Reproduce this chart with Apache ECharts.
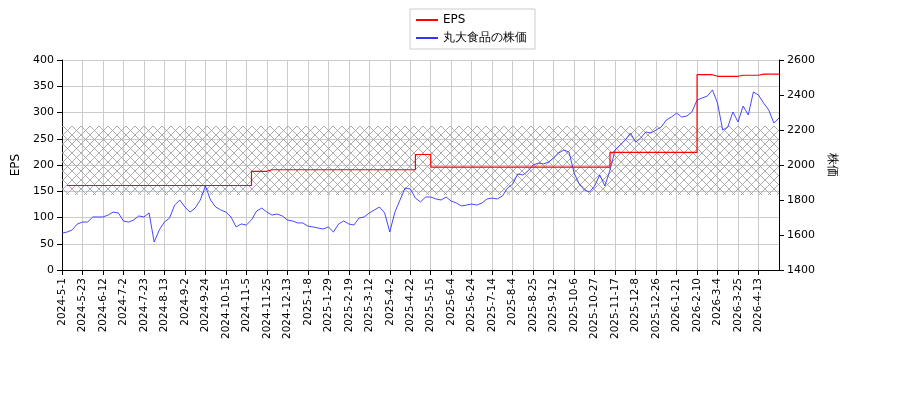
<!DOCTYPE html><html><head><meta charset="utf-8">
<script src="https://cdn.jsdelivr.net/npm/echarts@6/dist/echarts.min.js"></script>
<style>html,body{margin:0;background:#fff}#c{width:900px;height:400px}</style></head><body><div id="c"></div>
<script>
const tickLabels=["2024-5-1","2024-5-23","2024-6-12","2024-7-2","2024-7-23","2024-8-13","2024-9-2","2024-9-24","2024-10-15","2024-11-5","2024-11-25","2024-12-13","2025-1-8","2025-1-29","2025-2-19","2025-3-12","2025-4-2","2025-4-22","2025-5-15","2025-6-4","2025-6-24","2025-7-14","2025-8-4","2025-8-25","2025-9-12","2025-10-6","2025-10-27","2025-11-17","2025-12-8","2025-12-26","2026-1-21","2026-2-10","2026-3-4","2026-3-25","2026-4-13"];
const price=[1611,1617,1629,1663,1674,1674,1703,1703,1703,1714,1731,1726,1680,1674,1686,1709,1703,1726,1560,1629,1674,1697,1771,1800,1760,1731,1754,1800,1880,1800,1760,1743,1731,1703,1646,1663,1657,1686,1737,1754,1731,1714,1720,1709,1686,1680,1669,1669,1651,1646,1640,1634,1646,1617,1663,1680,1663,1657,1697,1703,1726,1743,1760,1726,1617,1731,1800,1869,1863,1811,1789,1817,1817,1806,1800,1817,1794,1783,1766,1771,1777,1771,1783,1806,1811,1806,1823,1869,1891,1949,1943,1966,2000,2011,2006,2017,2040,2069,2086,2074,1954,1891,1857,1846,1880,1943,1880,1971,2086,2114,2143,2183,2131,2154,2189,2183,2200,2217,2257,2274,2297,2274,2280,2303,2371,2383,2394,2429,2354,2200,2217,2303,2246,2337,2286,2417,2400,2354,2314,2240,2269];
// EPS step segments: [start index, value]
const epsSteps=[[1,161],[37,188],[40,191],[69,220],[72,196],[107,224],[124,372],[127,369],[132,371],[136,373]];
const bandPrice=[1829,2223];
const n=price.length;
const cats=[];for(let i=0;i<n;i++)cats.push(i%4===0&&tickLabels[i/4]?tickLabels[i/4]:'#'+i);
const eps=[];let si=0;for(let i=0;i<n;i++){while(si+1<epsSteps.length&&epsSteps[si+1][0]<=i)si++;eps.push(i>=epsSteps[0][0]?epsSteps[si][1]:null);}
const cv=document.createElement('canvas');cv.width=9;cv.height=9;const g=cv.getContext('2d');
g.strokeStyle='#999';g.lineWidth=0.8;g.beginPath();g.moveTo(0,0);g.lineTo(9,9);g.moveTo(9,0);g.lineTo(0,9);g.stroke();
const ch=echarts.init(document.getElementById('c'));
const f='DejaVu Sans';
const isTick=i=>i%4===0&&i/4<tickLabels.length;
ch.setOption({animation:false,textStyle:{fontFamily:f},
legend:{orient:'vertical',left:410,top:9,padding:[5,8,5,6],itemGap:6,borderColor:'#ccc',borderWidth:1,icon:'rect',itemWidth:22,itemHeight:2,textStyle:{fontSize:12,color:'#000',fontFamily:f},data:['EPS','丸大食品の株価']},
grid:{left:62,right:121,top:60,bottom:130},
xAxis:{type:'category',data:cats,boundaryGap:false,
 axisLine:{lineStyle:{color:'#000'}},axisTick:{interval:isTick,lineStyle:{color:'#000'}},
 axisLabel:{interval:isTick,rotate:90,fontSize:10.5,color:'#000',fontFamily:f,hideOverlap:false,formatter:v=>v[0]==='#'?'':v},
 splitLine:{show:true,interval:isTick,lineStyle:{color:'#ccc'}}},
yAxis:[{type:'value',min:0,max:400,interval:50,name:'EPS',nameLocation:'middle',nameGap:36,nameTextStyle:{fontSize:12,color:'#000'},
 axisLine:{show:true,lineStyle:{color:'#000'}},axisTick:{show:true},axisLabel:{color:'#000',fontSize:11},splitLine:{lineStyle:{color:'#ccc'}}},
 {type:'value',min:1400,max:2600,interval:200,name:'株価',nameLocation:'middle',nameGap:46,nameRotate:-90,nameTextStyle:{fontSize:12,color:'#000'},
 axisLine:{show:true,lineStyle:{color:'#000'}},axisTick:{show:true},axisLabel:{color:'#000',fontSize:11,formatter:v=>String(v)},splitLine:{show:false}}],
series:[{name:'EPS',type:'line',data:eps,yAxisIndex:0,symbol:'none',step:'end',lineStyle:{color:'#f00',width:1.2},itemStyle:{color:'#f00'},z:3},
{name:'丸大食品の株価',type:'line',data:price,yAxisIndex:1,symbol:'none',lineStyle:{color:'#3333ff',width:0.9},itemStyle:{color:'#3333ff'},z:2,
 markArea:{silent:true,itemStyle:{color:{image:cv,repeat:'repeat'},opacity:1},data:[[{yAxis:bandPrice[0]},{yAxis:bandPrice[1]}]]}}]});
</script></body></html>
